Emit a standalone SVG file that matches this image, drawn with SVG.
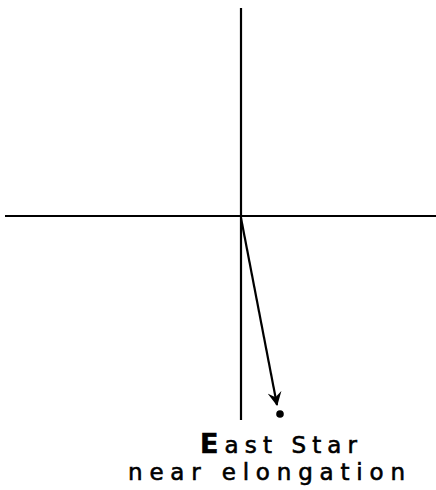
<svg xmlns="http://www.w3.org/2000/svg" width="436" height="490" viewBox="0 0 436 490">
<style>
.ln{stroke:#000;stroke-width:2.2;fill:none}
.lbl{font-family:"DejaVu Sans","Liberation Sans",sans-serif;font-size:23px;fill:#000;stroke:#000;stroke-width:0.6}
</style>
<defs>
<marker id="ah" viewBox="0 0 14 14" refX="13" refY="7" markerWidth="14" markerHeight="14" markerUnits="userSpaceOnUse" orient="auto">
<path d="M0,0 L14,7 L0,14 L5,7 Z" fill="#000"/>
</marker>
</defs>
<g id="axes">
<line class="ln" x1="241" y1="8" x2="241" y2="420"/>
<line class="ln" x1="5" y1="216" x2="436" y2="216"/>
</g>
<g id="connectors">
<line class="ln" x1="241" y1="218" x2="277" y2="405" marker-end="url(#ah)"/>
</g>
<g id="star">
<circle cx="280" cy="414" r="3.8" fill="#000"/>
</g>
<g id="label">
<text class="lbl" x="200" y="453" textLength="157" lengthAdjust="spacing"><tspan font-size="27" font-weight="bold">E</tspan>ast Star</text>
<text class="lbl" x="128" y="480" textLength="277" lengthAdjust="spacing">near elongation</text>
</g>
</svg>
